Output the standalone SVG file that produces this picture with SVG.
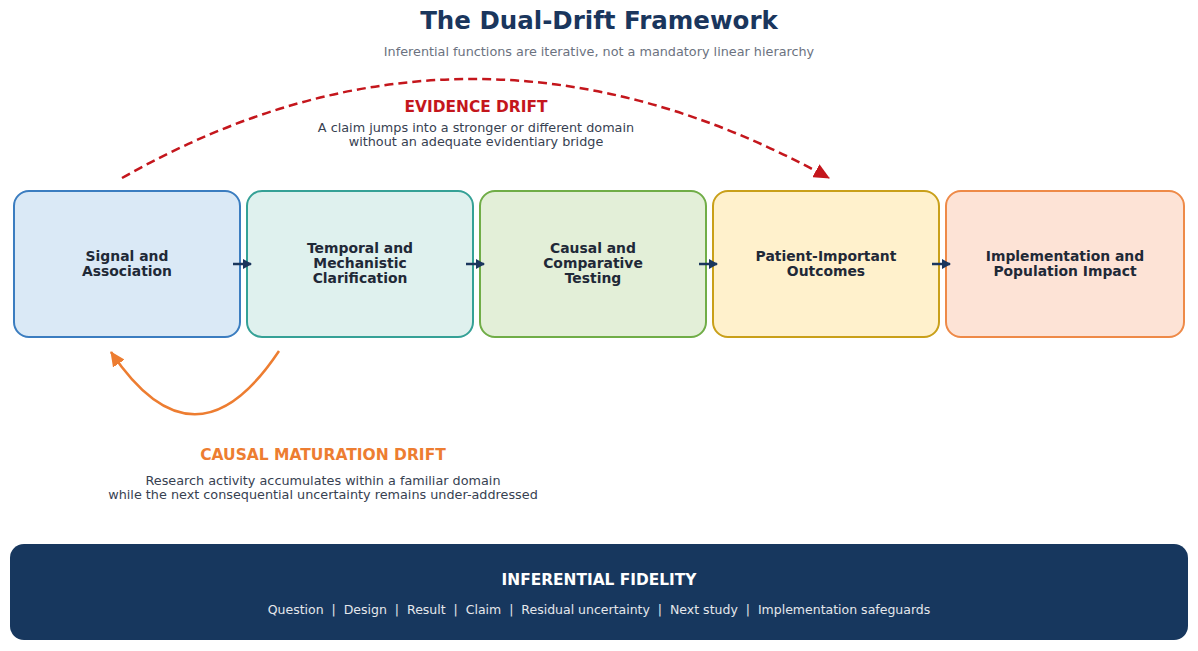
<svg xmlns="http://www.w3.org/2000/svg" width="1198" height="651" viewBox="0 0 1198 651">
<style>
text{font-family:"DejaVu Sans","Liberation Sans",sans-serif;text-anchor:middle}
.box{stroke-width:2}
.lbl{font-weight:bold;font-size:13.9px;fill:#1f2937}
.desc{font-size:12.8px;fill:#374151}
.flow{stroke:#1a365d;stroke-width:2.5;fill:none;marker-end:url(#nav)}
</style>
<defs>
<marker id="nav" markerWidth="10" markerHeight="10" refX="8" refY="5" orient="auto" markerUnits="userSpaceOnUse"><path d="M0,0 L9,5 L0,10 Z" fill="#1a365d"/></marker>
<marker id="red" markerWidth="17" markerHeight="15" refX="15" refY="7.5" orient="auto" markerUnits="userSpaceOnUse"><path d="M0,0 L16,7.5 L0,15 Z" fill="#c4161c"/></marker>
<marker id="org" markerWidth="16" markerHeight="14" refX="14" refY="7" orient="auto" markerUnits="userSpaceOnUse"><path d="M0,0 L15,7 L0,14 Z" fill="#ed7d31"/></marker>
</defs>
<rect width="1198" height="651" fill="#ffffff"/>
<text x="599" y="29" style="font-weight:bold;font-size:24.5px;fill:#1a365d">The Dual-Drift Framework</text>
<text x="599" y="56" style="font-size:12.8px;fill:#6b7280">Inferential functions are iterative, not a mandatory linear hierarchy</text>

<g id="node1"><rect class="box" x="14" y="191" width="226" height="146" rx="15" fill="#dae9f6" stroke="#3b7dc0"/>
<text class="lbl" x="127" y="261">Signal and</text><text class="lbl" x="127" y="276">Association</text></g>
<g id="node2"><rect class="box" x="247" y="191" width="226" height="146" rx="15" fill="#dff1ee" stroke="#35a196"/>
<text class="lbl" x="360" y="253">Temporal and</text><text class="lbl" x="360" y="268">Mechanistic</text><text class="lbl" x="360" y="283">Clarification</text></g>
<g id="node3"><rect class="box" x="480" y="191" width="226" height="146" rx="15" fill="#e3efd8" stroke="#70ad47"/>
<text class="lbl" x="593" y="253">Causal and</text><text class="lbl" x="593" y="268">Comparative</text><text class="lbl" x="593" y="283">Testing</text></g>
<g id="node4"><rect class="box" x="713" y="191" width="226" height="146" rx="15" fill="#fff1cc" stroke="#c9a01a"/>
<text class="lbl" x="826" y="261">Patient-Important</text><text class="lbl" x="826" y="276">Outcomes</text></g>
<g id="node5"><rect class="box" x="946" y="191" width="238" height="146" rx="15" fill="#fde3d6" stroke="#ee8a48"/>
<text class="lbl" x="1065" y="261">Implementation and</text><text class="lbl" x="1065" y="276">Population Impact</text></g>

<g id="connectors">
<line class="flow" x1="233" y1="264" x2="251" y2="264"/>
<line class="flow" x1="466" y1="264" x2="484" y2="264"/>
<line class="flow" x1="699" y1="264" x2="717" y2="264"/>
<line class="flow" x1="932" y1="264" x2="950" y2="264"/>
<path d="M122,178 Q470,-20 829,178" fill="none" stroke="#c4161c" stroke-width="2.5" stroke-dasharray="9,5" marker-end="url(#red)"/>
<path d="M279,351 Q195,477 111,352" fill="none" stroke="#ed7d31" stroke-width="2.5" marker-end="url(#org)"/>
</g>

<g id="evidence-drift">
<text x="476" y="112" style="font-weight:bold;font-size:15.4px;fill:#c4161c">EVIDENCE DRIFT</text>
<text class="desc" x="476" y="132">A claim jumps into a stronger or different domain</text>
<text class="desc" x="476" y="146">without an adequate evidentiary bridge</text>
</g>
<g id="causal-drift">
<text x="323" y="460" style="font-weight:bold;font-size:15.5px;fill:#ed7d31">CAUSAL MATURATION DRIFT</text>
<text class="desc" x="323" y="485">Research activity accumulates within a familiar domain</text>
<text class="desc" x="323" y="499">while the next consequential uncertainty remains under-addressed</text>
</g>

<g id="fidelity">
<rect x="10" y="544" width="1178" height="96" rx="14" fill="#17375e"/>
<text x="599" y="585" style="font-weight:bold;font-size:15.4px;fill:#ffffff">INFERENTIAL FIDELITY</text>
<text x="599" y="614" xml:space="preserve" style="font-size:12.5px;fill:#e5e7eb;white-space:pre">Question  |  Design  |  Result  |  Claim  |  Residual uncertainty  |  Next study  |  Implementation safeguards</text>
</g>
</svg>
